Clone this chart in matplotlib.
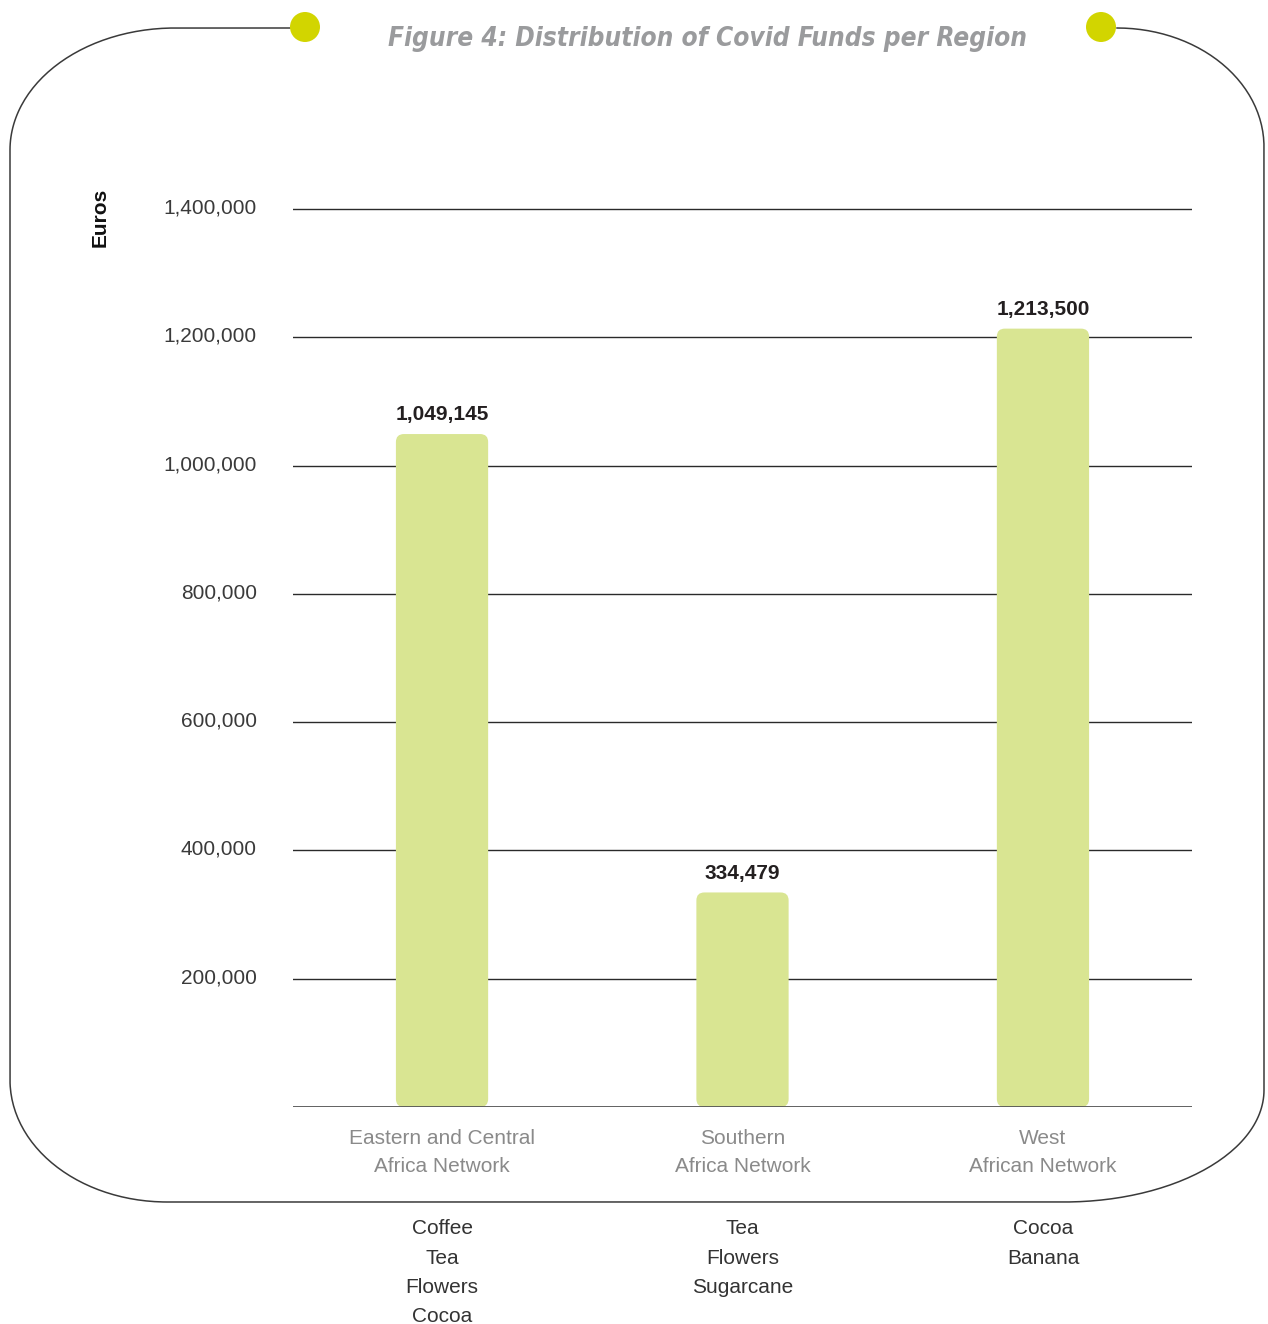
import numpy as np
import matplotlib
matplotlib.use("Agg")
import matplotlib.pyplot as plt
from matplotlib.patches import FancyBboxPatch, BoxStyle, Ellipse
from matplotlib.lines import Line2D
from matplotlib.transforms import ScaledTranslation

# ---------------- data ----------------
categories = ["Eastern and Central\nAfrica Network", "Southern\nAfrica Network", "West\nAfrican Network"]
values = [1049145, 334479, 1213500]
value_labels = ["1,049,145", "334,479", "1,213,500"]
crops = ["Coffee\nTea\nFlowers\nCocoa", "Tea\nFlowers\nSugarcane", "Cocoa\nBanana"]
yticks = [200000, 400000, 600000, 800000, 1000000, 1200000, 1400000]
ytick_labels = ["200,000", "400,000", "600,000", "800,000", "1,000,000", "1,200,000", "1,400,000"]
title = "Figure 4: Distribution of Covid Funds per Region"
ylabel = "Euros"

# ---------------- style ----------------
W, H = 1268, 1324
BAR_COLOR = "#D9E592"
DOT_COLOR = "#D2D500"
FONT = "Liberation Sans"

fig = plt.figure(figsize=(W / 100, H / 100), dpi=100)
fig.patch.set_facecolor("white")

def fx(x):
    return x / W

def fy(y):
    return 1 - y / H

# axes: x from 293 to 1192 px, y baseline at 1107 px, 1.4M at 209 px
ymax = 1500000
px_per_unit = (1107 - 209) / 1400000
top_px = 1107 - ymax * px_per_unit
ax = fig.add_axes([fx(293), fy(1107), fx(1192) - fx(293), (1107 - top_px) / H])
ax.set_xlim(-0.496, 2.496)
ax.set_ylim(0, ymax)
for s in ax.spines.values():
    s.set_visible(False)
ax.set_facecolor("none")

# grid lines
for t in yticks:
    ax.axhline(t, color="#2a2a2a", lw=1.0, zorder=1)
ax.axhline(0, color="#555555", lw=1.3, zorder=3)

x = np.arange(len(values))
bars = ax.bar(x, values, width=0.307, color=BAR_COLOR, zorder=2)
# rounded bars
x_units_per_px = 2.992 / 899
y_units_per_px = 1 / px_per_unit
aspect = y_units_per_px / x_units_per_px
for b in bars:
    bx, by = b.get_x(), b.get_y()
    bw, bh = b.get_width(), b.get_height()
    p = FancyBboxPatch((bx, by), bw, bh,
                       boxstyle=BoxStyle.Round(pad=0, rounding_size=8 * x_units_per_px),
                       mutation_aspect=aspect, facecolor=BAR_COLOR, edgecolor="none", zorder=2)
    ax.add_patch(p)
    b.set_visible(False)

for xi, v, lab in zip(x, values, value_labels):
    ax.annotate(lab, xy=(xi, v), xytext=(0, 7), textcoords="offset points",
                ha="center", va="bottom", fontsize=15, fontweight="bold",
                color="#231f20", family=FONT)

# y ticks
ax.set_yticks(yticks)
ax.set_yticklabels(ytick_labels, family=FONT, fontsize=15, color="#3a3a3a")
ax.tick_params(axis="y", length=0, pad=26)
for lab in ax.get_yticklabels():
    lab.set_transform(lab.get_transform() + ScaledTranslation(0, 3 / 100, fig.dpi_scale_trans))

# x ticks (categories)
ax.set_xticks(x)
ax.set_xticklabels(categories, family=FONT, fontsize=15, color="#8a8a8a", linespacing=1.6)
ax.tick_params(axis="x", length=0, pad=16)

# crops below the frame
for xi, c in zip(x, crops):
    ax.annotate(c, xy=(xi, 0), xycoords="data", xytext=(0, -81), textcoords="offset points",
                ha="center", va="top", fontsize=15, color="#333333", family=FONT,
                linespacing=1.68)

# y label
fig.text(fx(100), fy(217), ylabel, rotation=90, ha="center", va="center",
         fontsize=15, fontweight="bold", color="#111111", family=FONT)

# title
fig.text(fx(707), fy(39), title, ha="center", va="center", fontsize=18.8,
         fontweight="bold", style="italic", color="#9a9b9d",
         family="DejaVu Sans", fontstretch="condensed")

# frame
def arc(cx, cy, rx, ry, a0, a1, n=60):
    t = np.linspace(np.radians(a0), np.radians(a1), n)
    return cx + rx * np.cos(t), cy - ry * np.sin(t)

xs, ys = [290.0], [28.0]
ax_, ay_ = arc(175, 150, 165, 122, 90, 180)
xs += list(ax_); ys += list(ay_)
ax_, ay_ = arc(167, 1080, 157, 122, 180, 270)
xs += list(ax_); ys += list(ay_)
ax_, ay_ = arc(1064, 1090, 200, 112, 270, 360)
xs += list(ax_); ys += list(ay_)
ax_, ay_ = arc(1117, 147, 147, 119, 0, 90)
xs += list(ax_); ys += list(ay_)
fig.add_artist(Line2D([fx(v) for v in xs], [fy(v) for v in ys],
                      transform=fig.transFigure, color="#3a3a3a", lw=1.1))

for cx in (305, 1101):
    fig.add_artist(Ellipse((fx(cx), fy(27)), 30 / W, 30 / H, transform=fig.transFigure,
                           facecolor=DOT_COLOR, edgecolor="none", zorder=5))

fig.savefig("out.png", dpi=100, facecolor="white")
